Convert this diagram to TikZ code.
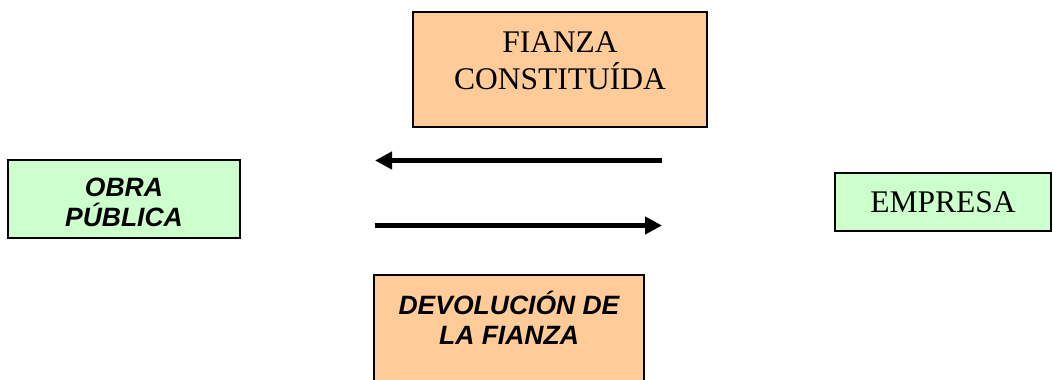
\documentclass[tikz,border=0pt]{standalone}
\usepackage{fontspec}
\setmainfont{Liberation Serif}
\newfontfamily\arialfont{Liberation Sans}
\usetikzlibrary{arrows.meta}
\definecolor{fianzanaranja}{HTML}{FFCC99}
\definecolor{obraverde}{HTML}{CCFFCC}

\begin{document}
\begin{tikzpicture}[x=1pt,y=-1pt,
    caja/.style={draw=black,line width=1.5pt,inner sep=0pt},
    romana/.style={font=\fontsize{31.5}{37}\selectfont,align=center},
    negrita/.style={font=\arialfont\bfseries\itshape\fontsize{26.5}{30.5}\selectfont,align=center},
    flecha/.style={line width=5pt,-{Triangle[length=17pt,width=17pt]}}]
  \useasboundingbox (0,0) rectangle (1053,380);
  \clip (0,0) rectangle (1053,380);
  \node[caja,fill=fianzanaranja,minimum width=294pt,minimum height=115pt,
    label={[romana,yshift=8.5pt]center:FIANZA\\CONSTITUÍDA}] (fianza) at (560,69.5) {};
  \node[caja,fill=obraverde,minimum width=232pt,minimum height=78pt,
    label={[negrita,yshift=-3.5pt]center:OBRA\\PÚBLICA}] (obra) at (124,199) {};
  \node[caja,fill=obraverde,minimum width=216pt,minimum height=58pt,romana] (empresa) at (943,202) {EMPRESA};
  \node[caja,fill=fianzanaranja,minimum width=270pt,minimum height=115pt,
    label={[negrita,yshift=14.5pt]center:DEVOLUCIÓN DE\\LA FIANZA}] (devolucion) at (509,332.5) {};
  \coordinate (ida-sale) at (662,160.5);
  \coordinate (ida-llega) at (375,160.5);
  \coordinate (vuelta-sale) at (375,225.5);
  \coordinate (vuelta-llega) at (662,225.5);
  \draw[flecha] (ida-sale) -- (ida-llega);
  \draw[flecha] (vuelta-sale) -- (vuelta-llega);
\end{tikzpicture}
\end{document}
